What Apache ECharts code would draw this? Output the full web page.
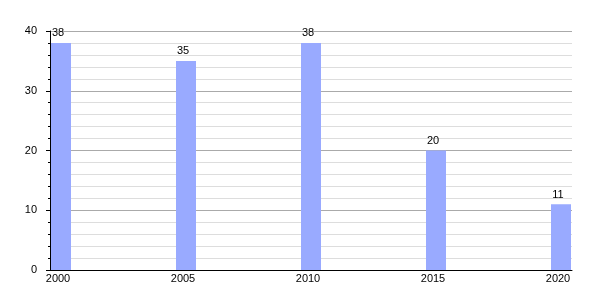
<!DOCTYPE html>
<html>
<head>
<meta charset="utf-8">
<script src="https://cdn.jsdelivr.net/npm/echarts@6/dist/echarts.min.js"></script>
<style>
  html, body { margin: 0; padding: 0; background: #fff; }
  #chart { width: 600px; height: 300px; }
</style>
</head>
<body>
<div id="chart"></div>
<script>
const years = [2000, 2005, 2010, 2015, 2020];
const values = [38, 35, 38, 20, 11];
const yTicks = [0, 10, 20, 30, 40];

const chart = echarts.init(document.getElementById('chart'), null, { renderer: 'canvas' });
const font = "'Liberation Sans', Arial, sans-serif";

chart.setOption({
  animation: false,
  backgroundColor: '#fff',
  grid: { left: 50, right: 28, top: 31, bottom: 30 },
  xAxis: {
    type: 'value',
    min: 1999.56,
    max: 2020.44,
    splitLine: { show: false },
    axisLine: { show: true, onZero: false, lineStyle: { color: '#000', width: 1 } },
    axisTick: { show: false },
    axisLabel: {
      customValues: years,
      formatter: v => String(v),
      color: '#000',
      fontFamily: font,
      fontSize: 11,
      margin: 3,
      padding: [0, 6, 0, 0]
    }
  },
  yAxis: {
    type: 'value',
    min: yTicks[0],
    max: yTicks[yTicks.length - 1],
    interval: 10,
    axisLine: { show: true, lineStyle: { color: '#000', width: 1 } },
    axisTick: { show: true, length: 4, lineStyle: { color: '#000' } },
    minorTick: { show: true, splitNumber: 5, length: 2, lineStyle: { color: '#000' } },
    splitLine: { show: true, lineStyle: { color: '#aaaaaa', width: 1 } },
    minorSplitLine: { show: true, lineStyle: { color: '#dddddd', width: 1 } },
    axisLabel: { color: '#000', fontFamily: font, fontSize: 11, margin: 13 }
  },
  series: [{
    type: 'bar',
    barWidth: 20,
    data: years.map((y, i) => [y, values[i]]),
    itemStyle: { color: '#99aaff' },
    label: {
      show: true,
      position: 'top',
      distance: 4,
      offset: [-3, 0],
      color: '#000',
      fontFamily: font,
      fontSize: 11
    }
  }]
});
</script>
</body>
</html>
